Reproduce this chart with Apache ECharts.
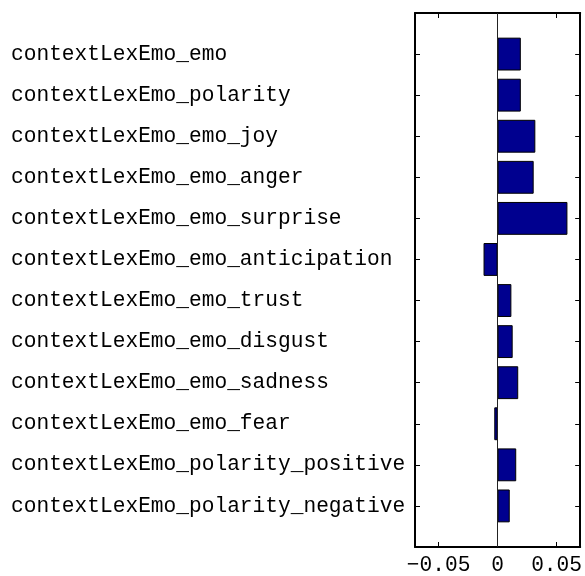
<!DOCTYPE html>
<html>
<head>
<meta charset="utf-8">
<script src="https://cdn.jsdelivr.net/npm/echarts@6/dist/echarts.min.js"></script>
<style>html,body{margin:0;padding:0;background:#fff}#c{width:585px;height:576px}</style>
</head>
<body>
<div id="c"></div>
<script>
const categories = [
  'contextLexEmo_emo',
  'contextLexEmo_polarity',
  'contextLexEmo_emo_joy',
  'contextLexEmo_emo_anger',
  'contextLexEmo_emo_surprise',
  'contextLexEmo_emo_anticipation',
  'contextLexEmo_emo_trust',
  'contextLexEmo_emo_disgust',
  'contextLexEmo_emo_sadness',
  'contextLexEmo_emo_fear',
  'contextLexEmo_polarity_positive',
  'contextLexEmo_polarity_negative'
];
const values = [0.0197, 0.0197, 0.032, 0.0306, 0.0592, -0.0119, 0.0117, 0.0128, 0.0175, -0.0028, 0.0158, 0.0103];
const xTicks = [-0.05, 0, 0.05];
const xMin = -0.07, xMax = 0.07;

const cats = [''].concat(categories, ['']);
const vals = [null].concat(values, [null]);
const FONT = '"Liberation Mono", "Courier New", monospace';
const FS = 21.2;

const chart = echarts.init(document.getElementById('c'), null, {renderer: 'canvas'});
const fmt = v => {
  if (Math.abs(v) < 1e-12) return '0';
  return (v < 0 ? '\u2212' : '') + Math.abs(v).toFixed(2);
};
const yBase = {
  type: 'category', data: cats, inverse: true, boundaryGap: false,
  axisLine: {show: true, onZero: false, lineStyle: {color: '#000', width: 2}},
  axisTick: {show: true, inside: true, length: 5, interval: 0, lineStyle: {color: '#000'}},
  splitLine: {show: false}
};
chart.setOption({
  animation: false,
  backgroundColor: '#fff',
  grid: {left: 415, right: 2, top: 13, bottom: 27, containLabel: false},
  xAxis: [
    {type: 'value', min: xMin, max: xMax, position: 'bottom',
     axisLine: {show: true, onZero: false, lineStyle: {color: '#000', width: 2}},
     axisTick: {show: true, inside: true, length: 5, customValues: xTicks, lineStyle: {color: '#000'}},
     axisLabel: {show: true, customValues: xTicks, formatter: fmt, margin: 8, color: '#000', fontSize: FS, fontFamily: FONT},
     splitLine: {show: false}},
    {type: 'value', min: xMin, max: xMax, position: 'top',
     axisLine: {show: true, onZero: false, lineStyle: {color: '#000', width: 2}},
     axisTick: {show: true, inside: true, length: 5, customValues: xTicks, lineStyle: {color: '#000'}},
     axisLabel: {show: false}, splitLine: {show: false}}
  ],
  yAxis: [
    Object.assign({}, yBase, {position: 'left',
      axisLabel: {show: true, interval: 0, align: 'left', margin: 404, color: '#000', fontSize: FS, fontFamily: FONT}}),
    Object.assign({}, yBase, {position: 'right', axisLabel: {show: false}})
  ],
  series: [{
    type: 'bar', data: vals, xAxisIndex: 0, yAxisIndex: 0,
    barWidth: '80%',
    itemStyle: {color: '#00008F', borderColor: '#000', borderWidth: 1},
    markLine: {silent: true, symbol: 'none', label: {show: false},
      lineStyle: {color: '#222', width: 1, type: 'solid'},
      data: [{xAxis: 0}]}
  }]
});
</script>
</body>
</html>
